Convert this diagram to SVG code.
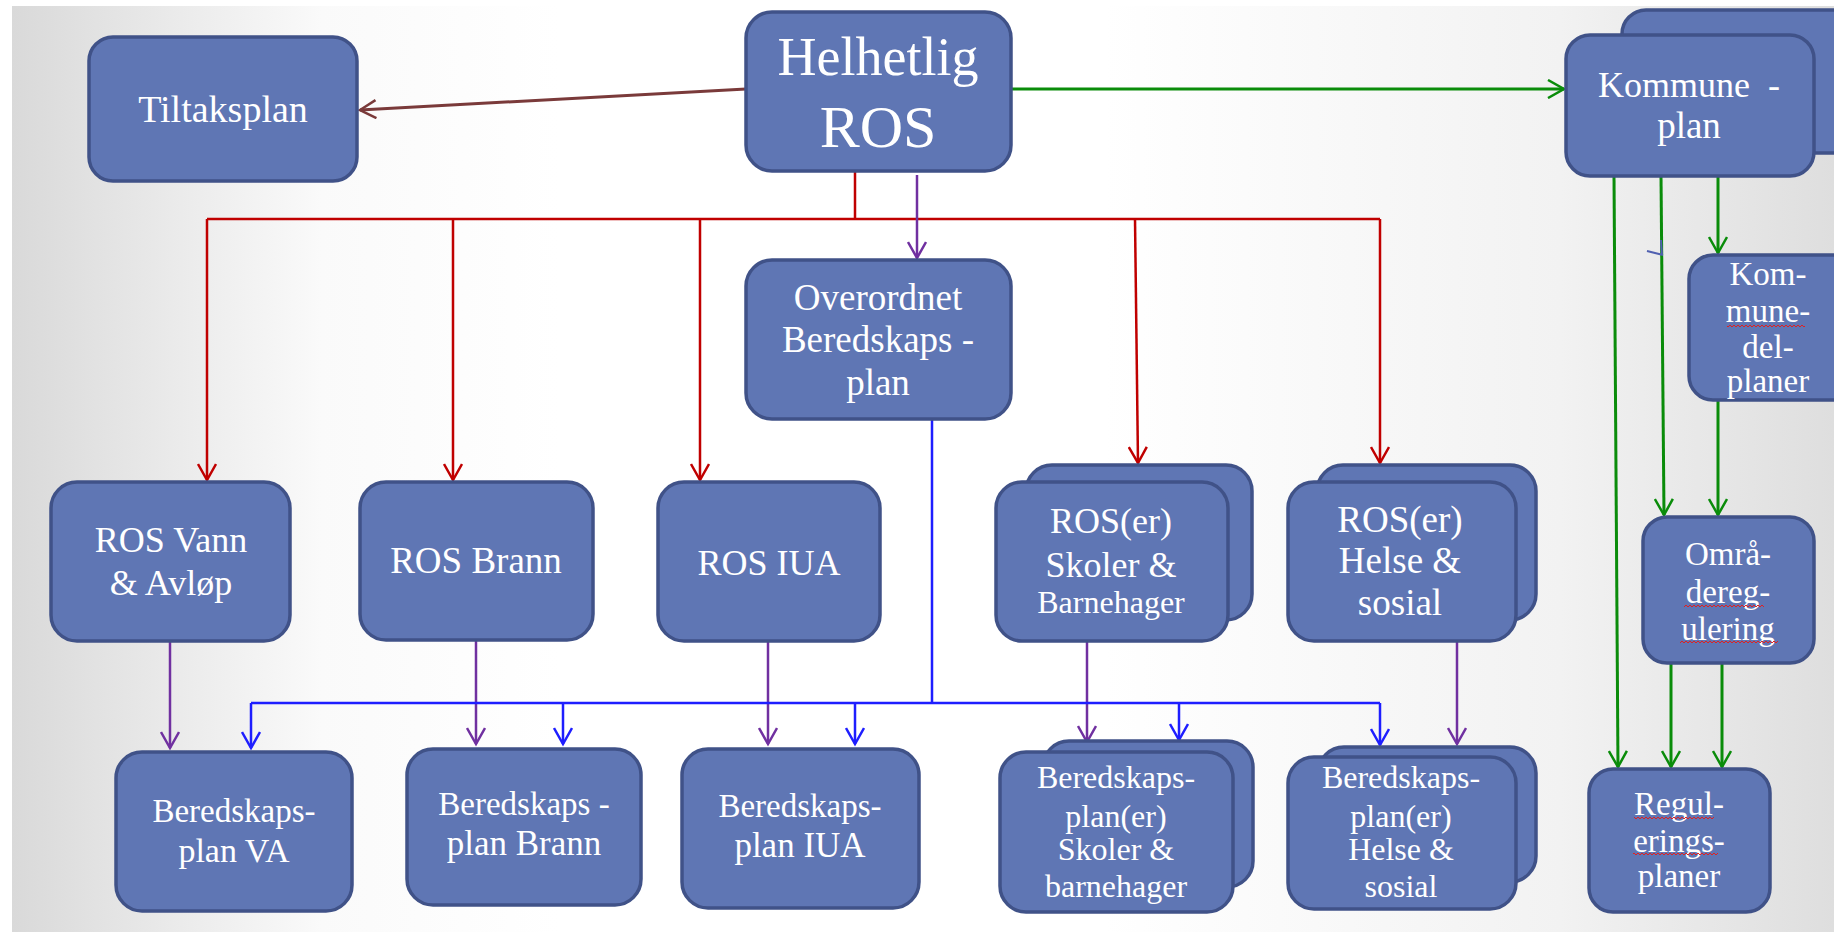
<svg xmlns="http://www.w3.org/2000/svg" width="1834" height="934" viewBox="0 0 1834 934">
<defs>
<linearGradient id="bg" x1="0" y1="0" x2="1" y2="0">
<stop offset="0" stop-color="#d9d9d9"/>
<stop offset="0.17" stop-color="#fafafa"/>
<stop offset="0.3" stop-color="#ffffff"/>
<stop offset="0.6" stop-color="#ffffff"/>
<stop offset="0.85" stop-color="#f2f2f2"/>
<stop offset="1" stop-color="#dedede"/>
</linearGradient>
<marker id="aRed" markerUnits="userSpaceOnUse" markerWidth="20" markerHeight="20" viewBox="0 0 20 20" refX="17" refY="10" orient="auto"><path d="M1,1 L17,10 L1,19" fill="none" stroke="#C00000" stroke-width="2.5"/></marker>
<marker id="aPur" markerUnits="userSpaceOnUse" markerWidth="20" markerHeight="20" viewBox="0 0 20 20" refX="17" refY="10" orient="auto"><path d="M1,1 L17,10 L1,19" fill="none" stroke="#7030A0" stroke-width="2.5"/></marker>
<marker id="aBlu" markerUnits="userSpaceOnUse" markerWidth="20" markerHeight="20" viewBox="0 0 20 20" refX="17" refY="10" orient="auto"><path d="M1,1 L17,10 L1,19" fill="none" stroke="#1E1EFF" stroke-width="2.5"/></marker>
<marker id="aGrn" markerUnits="userSpaceOnUse" markerWidth="20" markerHeight="20" viewBox="0 0 20 20" refX="17" refY="10" orient="auto"><path d="M1,1 L17,10 L1,19" fill="none" stroke="#0A8C0A" stroke-width="2.5"/></marker>
<marker id="aBrn" markerUnits="userSpaceOnUse" markerWidth="20" markerHeight="20" viewBox="0 0 20 20" refX="17" refY="10" orient="auto"><path d="M1,1 L17,10 L1,19" fill="none" stroke="#7A3A3A" stroke-width="2.5"/></marker>
<pattern id="wavy" patternUnits="userSpaceOnUse" width="4" height="4"><path d="M0,3 L2,1 L4,3" fill="none" stroke="#E02020" stroke-width="1"/></pattern>
<style>
.box{fill:#5F76B4;stroke:#405288;stroke-width:3.5}
.t{font-family:"Liberation Serif","DejaVu Serif",serif;fill:#ffffff;text-anchor:middle}
.red{stroke:#C00000;stroke-width:2.5;fill:none}
.pur{stroke:#7030A0;stroke-width:2.5;fill:none}
.blu{stroke:#1E1EFF;stroke-width:2.5;fill:none}
.grn{stroke:#0A8C0A;stroke-width:3;fill:none}
.brn{stroke:#7A3A3A;stroke-width:3;fill:none}
</style>
</defs>
<rect x="0" y="0" width="1834" height="934" fill="#ffffff"/>
<rect x="12" y="6" width="1822" height="926" fill="url(#bg)"/>

<g id="connectors">
<path class="brn" d="M746,89 L360,110" marker-end="url(#aBrn)"/>
<path class="grn" d="M1011,89 L1564,89" marker-end="url(#aGrn)"/>
<path class="red" d="M855,171 V219 M207,219 H1380"/>
<path class="red" d="M207,219 V480" marker-end="url(#aRed)"/>
<path class="red" d="M453,219 V480" marker-end="url(#aRed)"/>
<path class="red" d="M700,219 V480" marker-end="url(#aRed)"/>
<path class="red" d="M1135,219 L1138,463" marker-end="url(#aRed)"/>
<path class="red" d="M1380,219 V463" marker-end="url(#aRed)"/>
<path class="pur" d="M917,175 V258" marker-end="url(#aPur)"/>
<path class="pur" d="M170,641 V748" marker-end="url(#aPur)"/>
<path class="pur" d="M476,641 V744" marker-end="url(#aPur)"/>
<path class="pur" d="M768,642 V744" marker-end="url(#aPur)"/>
<path class="pur" d="M1087,641 V742" marker-end="url(#aPur)"/>
<path class="pur" d="M1457,641 V744" marker-end="url(#aPur)"/>
<path class="blu" d="M932,419 V703 M251,703 H1380"/>
<path class="blu" d="M251,703 V748" marker-end="url(#aBlu)"/>
<path class="blu" d="M563,703 V744" marker-end="url(#aBlu)"/>
<path class="blu" d="M855,703 V744" marker-end="url(#aBlu)"/>
<path class="blu" d="M1179,703 V740" marker-end="url(#aBlu)"/>
<path class="blu" d="M1380,703 V745" marker-end="url(#aBlu)"/>
<path class="grn" d="M1614,176 L1618,767" marker-end="url(#aGrn)"/>
<path class="grn" d="M1661,176 L1664,515" marker-end="url(#aGrn)"/>
<path class="grn" d="M1718,176 V253" marker-end="url(#aGrn)"/>
<path class="grn" d="M1718,400 V515" marker-end="url(#aGrn)"/>
<path class="grn" d="M1671,663 V767" marker-end="url(#aGrn)"/>
<path class="grn" d="M1722,663 V767" marker-end="url(#aGrn)"/>
<path d="M1647,251 L1663,255 M1661,240 L1662,255" fill="none" stroke="#5060B0" stroke-width="2"/>
</g>

<g id="tiltaksplan">
<rect class="box" x="89" y="37" width="268" height="144" rx="24"/>
<text class="t" x="223" y="122" font-size="38">Tiltaksplan</text>
</g>
<g id="helhetlig-ros">
<rect class="box" x="746" y="12" width="265" height="159" rx="26"/>
<text class="t" x="878" y="75" font-size="54">Helhetlig</text>
<text class="t" x="878" y="147" font-size="60">ROS</text>
</g>
<g id="kommuneplan">
<rect class="box" x="1622" y="10" width="240" height="143" rx="24"/>
<rect class="box" x="1566" y="35" width="248" height="141" rx="24"/>
<text class="t" x="1689" y="97" font-size="36" xml:space="preserve">Kommune  -</text>
<text class="t" x="1689" y="138" font-size="37">plan</text>
</g>
<g id="overordnet">
<rect class="box" x="746" y="260" width="265" height="159" rx="26"/>
<text class="t" x="878" y="310" font-size="37">Overordnet</text>
<text class="t" x="878" y="352" font-size="37">Beredskaps -</text>
<text class="t" x="878" y="395" font-size="37">plan</text>
</g>
<g id="ros-vann">
<rect class="box" x="51" y="482" width="239" height="159" rx="26"/>
<text class="t" x="171" y="552" font-size="36">ROS Vann</text>
<text class="t" x="171" y="595" font-size="36">&amp; Avløp</text>
</g>
<g id="ros-brann">
<rect class="box" x="360" y="482" width="233" height="158" rx="26"/>
<text class="t" x="476" y="573" font-size="37">ROS Brann</text>
</g>
<g id="ros-iua">
<rect class="box" x="658" y="482" width="222" height="159" rx="26"/>
<text class="t" x="769" y="575" font-size="36">ROS IUA</text>
</g>
<g id="ros-skoler">
<rect class="box" x="1026" y="465" width="226" height="155" rx="26"/>
<rect class="box" x="996" y="482" width="232" height="159" rx="26"/>
<text class="t" x="1111" y="533" font-size="36">ROS(er)</text>
<text class="t" x="1111" y="577" font-size="36">Skoler &amp;</text>
<text class="t" x="1111" y="613" font-size="32">Barnehager</text>
</g>
<g id="ros-helse">
<rect class="box" x="1317" y="465" width="219" height="155" rx="26"/>
<rect class="box" x="1288" y="482" width="228" height="159" rx="26"/>
<text class="t" x="1400" y="532" font-size="37">ROS(er)</text>
<text class="t" x="1400" y="573" font-size="37">Helse &amp;</text>
<text class="t" x="1400" y="615" font-size="37">sosial</text>
</g>
<g id="kommunedelplaner">
<rect class="box" x="1689" y="255" width="175" height="145" rx="24"/>
<text class="t" x="1768" y="285" font-size="33">Kom-</text>
<text class="t" x="1768" y="322" font-size="33">mune-</text>
<text class="t" x="1768" y="358" font-size="33">del-</text>
<text class="t" x="1768" y="392" font-size="33">planer</text>
<rect x="1727" y="323" width="78" height="4" fill="url(#wavy)"/>
</g>
<g id="omraderegulering">
<rect class="box" x="1643" y="517" width="171" height="146" rx="24"/>
<text class="t" x="1728" y="565" font-size="33">Områ-</text>
<text class="t" x="1728" y="603" font-size="33">dereg-</text>
<text class="t" x="1728" y="640" font-size="33">ulering</text>
<rect x="1684" y="604" width="80" height="4" fill="url(#wavy)"/>
<rect x="1680" y="641" width="98" height="4" fill="url(#wavy)"/>
</g>
<g id="beredskapsplan-va">
<rect class="box" x="116" y="752" width="236" height="159" rx="26"/>
<text class="t" x="234" y="822" font-size="33">Beredskaps-</text>
<text class="t" x="234" y="862" font-size="34">plan VA</text>
</g>
<g id="beredskapsplan-brann">
<rect class="box" x="407" y="749" width="234" height="156" rx="26"/>
<text class="t" x="524" y="815" font-size="33">Beredskaps -</text>
<text class="t" x="524" y="855" font-size="35">plan Brann</text>
</g>
<g id="beredskapsplan-iua">
<rect class="box" x="682" y="749" width="237" height="159" rx="26"/>
<text class="t" x="800" y="817" font-size="33">Beredskaps-</text>
<text class="t" x="800" y="857" font-size="35">plan IUA</text>
</g>
<g id="beredskapsplan-skoler">
<rect class="box" x="1043" y="741" width="210" height="146" rx="26"/>
<rect class="box" x="1000" y="752" width="233" height="160" rx="26"/>
<text class="t" x="1116" y="788" font-size="32">Beredskaps-</text>
<text class="t" x="1116" y="827" font-size="32">plan(er)</text>
<text class="t" x="1116" y="860" font-size="32">Skoler &amp;</text>
<text class="t" x="1116" y="897" font-size="32">barnehager</text>
</g>
<g id="beredskapsplan-helse">
<rect class="box" x="1318" y="747" width="218" height="135" rx="26"/>
<rect class="box" x="1288" y="757" width="228" height="152" rx="26"/>
<text class="t" x="1401" y="788" font-size="32">Beredskaps-</text>
<text class="t" x="1401" y="827" font-size="32">plan(er)</text>
<text class="t" x="1401" y="860" font-size="32">Helse &amp;</text>
<text class="t" x="1401" y="897" font-size="32">sosial</text>
</g>
<g id="reguleringsplaner">
<rect class="box" x="1589" y="769" width="181" height="143" rx="24"/>
<text class="t" x="1679" y="815" font-size="33">Regul-</text>
<text class="t" x="1679" y="852" font-size="33">erings-</text>
<text class="t" x="1679" y="887" font-size="33">planer</text>
<rect x="1634" y="817" width="80" height="4" fill="url(#wavy)"/>
<rect x="1633" y="853" width="85" height="4" fill="url(#wavy)"/>
</g>
</svg>
